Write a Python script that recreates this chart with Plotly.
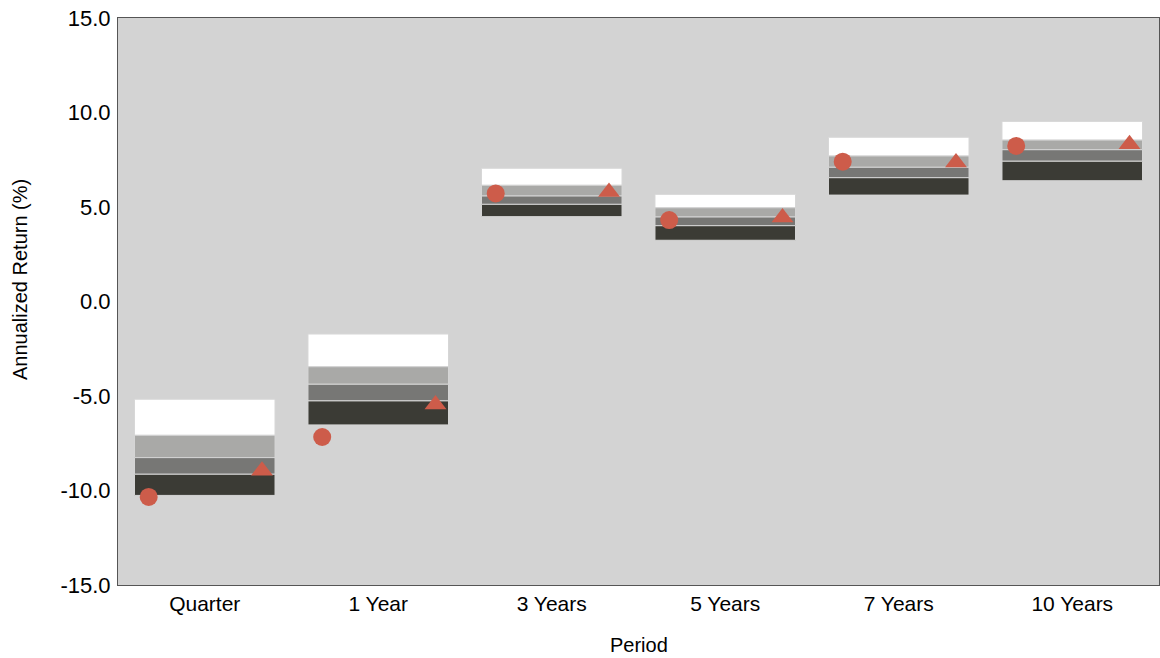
import plotly.graph_objects as go

periods = ["Quarter", "1 Year", "3 Years", "5 Years", "7 Years", "10 Years"]
# Percentile band edges (top of white, white/light, light/mid, mid/dark, bottom)
p5  = [-5.17, -1.72, 7.05, 5.67, 8.69, 9.53]
p25 = [-7.08, -3.45, 6.15, 4.96, 7.70, 8.54]
p50 = [-8.26, -4.38, 5.58, 4.47, 7.10, 8.03]
p75 = [-9.14, -5.26, 5.14, 4.01, 6.55, 7.42]
p95 = [-10.26, -6.53, 4.49, 3.24, 5.63, 6.39]
circle_vals = [-10.34, -7.17, 5.72, 4.31, 7.40, 8.23]
triangle_vals = [-8.95, -5.45, 5.80, 4.45, 7.35, 8.32]
yticks = [-15, -10, -5, 0, 5, 10, 15]

xs = list(range(len(periods)))
bands = [
    (p25, p5, "#ffffff"),
    (p50, p25, "#a9a9a7"),
    (p75, p50, "#777775"),
    (p95, p75, "#3b3b35"),
]

fig = go.Figure()
for lo, hi, col in bands:
    fig.add_trace(go.Bar(
        x=xs, base=lo, y=[h - l for h, l in zip(hi, lo)],
        width=0.81, marker=dict(color=col, line=dict(color="#d6d6d6", width=1)),
        showlegend=False, hoverinfo="skip",
    ))

fig.add_trace(go.Scatter(
    x=[x - 0.323 for x in xs], y=circle_vals, mode="markers",
    marker=dict(symbol="circle", size=18, color="#cd5c4a"), showlegend=False,
))
fig.add_trace(go.Scatter(
    x=[x + 0.33 for x in xs], y=triangle_vals, mode="markers",
    marker=dict(symbol="triangle-up", size=19, color="#cd5c4a"), showlegend=False,
))

fig.update_layout(
    width=1160, height=658, barmode="overlay",
    margin=dict(l=118, r=1, t=18, b=73),
    paper_bgcolor="#ffffff", plot_bgcolor="#d3d3d3",
    font=dict(family="Liberation Sans, Arial, sans-serif", color="#000000"),
    annotations=[
        dict(text="Annualized Return (%)", textangle=-90, xref="paper", yref="paper",
             x=0, xshift=-98, y=(585 - 280) / 567, xanchor="center", yanchor="middle",
             showarrow=False, font=dict(size=20)),
        dict(text="Period", xref="paper", yref="paper", x=0.5, y=0, yshift=-60,
             xanchor="center", yanchor="middle", showarrow=False, font=dict(size=20)),
    ],
)
fig.update_xaxes(
    range=[-0.5, 5.5], tickvals=xs, ticktext=periods,
    tickfont=dict(size=21), showgrid=False, zeroline=False,
    showline=True, linecolor="#555555", linewidth=1, mirror=True,
)
fig.update_yaxes(
    range=[-15, 15], tickvals=yticks, ticktext=[f"{v:.1f}" for v in yticks],
    tickfont=dict(size=22), showgrid=False, zeroline=False,
    showline=True, linecolor="#555555", linewidth=1, mirror=True,
    ticklabelstandoff=2,
)

fig.write_html(
    "out.html",
    config={"displayModeBar": False},
    post_script="document.body.style.margin='0';document.body.style.overflow='hidden';",
)
